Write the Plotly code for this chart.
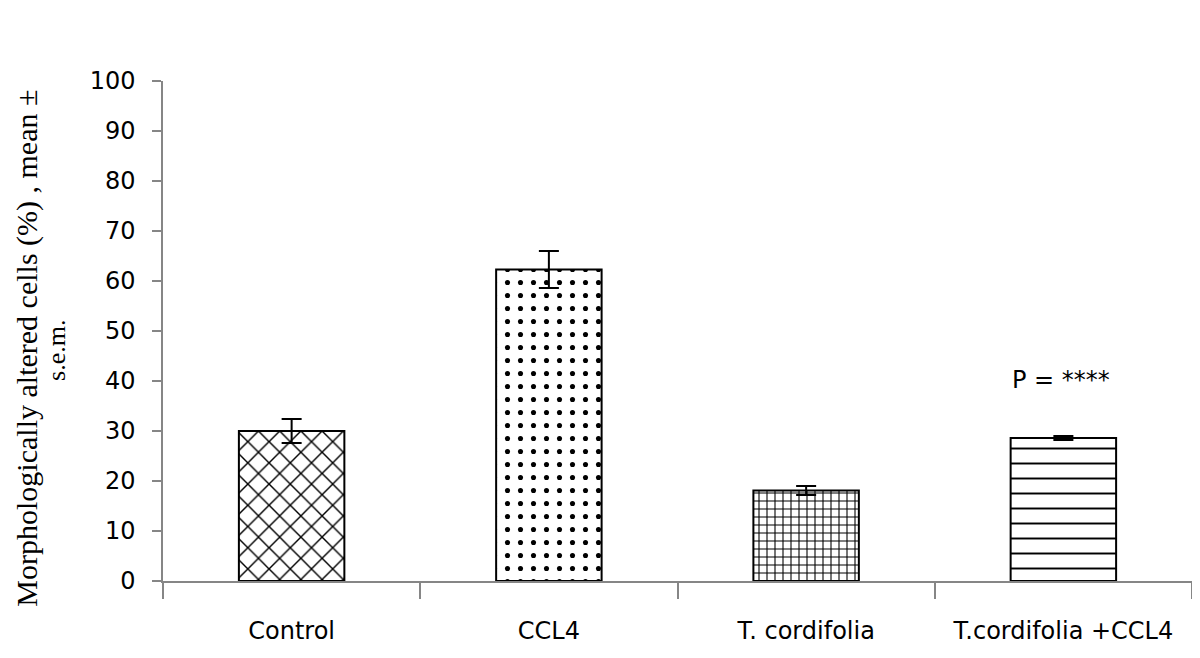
import plotly.graph_objects as go

categories = ["Control", "CCL4", "T. cordifolia", "T.cordifolia +CCL4"]
means = [30.0, 62.3, 18.1, 28.6]
sems = [2.4, 3.7, 0.9, 0.4]
y_ticks = [0, 10, 20, 30, 40, 50, 60, 70, 80, 90, 100]
p_label = "P = ****"

pattern_shapes = ["x", ".", "+", "-"]
pattern_sizes = [15, 13, 8, 15]
pattern_solidity = [0.18, 0.12, 0.25, 0.13]

fig = go.Figure()
fig.add_trace(go.Bar(
    x=categories,
    y=means,
    width=0.41,
    marker=dict(
        color="white",
        line=dict(color="black", width=2),
        pattern=dict(shape=pattern_shapes, size=pattern_sizes,
                     solidity=pattern_solidity, fgcolor="black",
                     bgcolor="white", fillmode="replace"),
    ),
    error_y=dict(type="data", array=sems, visible=True,
                 color="black", thickness=2, width=10),
    showlegend=False,
))

fig.add_annotation(x=categories[3], y=40.2, xref="x", yref="y",
                   text=p_label, showarrow=False,
                   xanchor="center", yanchor="middle", xshift=-2,
                   font=dict(family="DejaVu Sans", size=24, color="black"))

# y-axis title, two lines
fig.add_annotation(xref="paper", yref="paper", x=-0.1325, y=0.466,
                   xanchor="center", yanchor="middle", borderpad=0,
                   text="Morphologically altered cells (%) , mean ±",
                   textangle=-90, showarrow=False,
                   font=dict(family="Liberation Serif", size=30, color="black"))
fig.add_annotation(xref="paper", yref="paper", x=-0.104, y=0.462,
                   xanchor="center", yanchor="middle",
                   text="s.e.m.", textangle=-90, showarrow=False,
                   font=dict(family="Liberation Serif", size=26, color="black"))

# The page body adds an 8px offset; margins compensate so the plot area
# lands at x 163-1192, y 81-581 in the window.
fig.update_layout(
    width=1200, height=658,
    margin=dict(l=155, r=16, t=73, b=85, autoexpand=False),
    paper_bgcolor="white", plot_bgcolor="white",
    font=dict(family="DejaVu Sans", size=24, color="black"),
    bargap=0.59,
)
fig.update_xaxes(
    type="category", tickson="boundaries", ticks="outside", ticklen=16,
    tickcolor="#868686", tickwidth=1.5, automargin=False,
    showline=True, linecolor="#868686", linewidth=1.5,
    showgrid=False, zeroline=False,
    tickfont=dict(family="DejaVu Sans", size=24, color="black"),
    ticklabelstandoff=27,
)
fig.update_yaxes(
    range=[0, 100], tickvals=y_ticks, ticks="outside", ticklen=9,
    tickcolor="#868686", tickwidth=1.5, automargin=False,
    showline=True, linecolor="#868686", linewidth=1.5,
    showgrid=False, zeroline=False,
    tickfont=dict(family="DejaVu Sans", size=24, color="black"),
    ticklabelstandoff=12,
)

fig.write_html("out.html")
